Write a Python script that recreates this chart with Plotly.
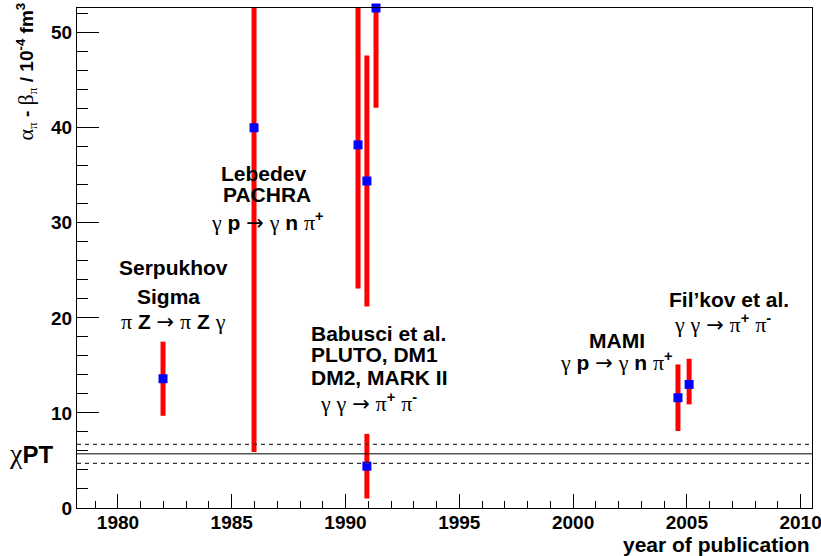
import plotly.graph_objects as go

# ---- data ----
experiments = ["Serpukhov", "Lebedev", "PLUTO", "DM1", "DM2", "MARK II", "MAMI", "Fil'kov"]
years = [1981.98, 1985.98, 1990.55, 1990.94, 1991.34, 1990.94, 2004.61, 2005.10]
values = [13.6, 40.0, 38.2, 34.4, 52.6, 4.4, 11.6, 13.0]
err_plus = [3.9, 34.1, 15.1, 13.2, 10.5, 3.4, 3.5, 2.7]
err_minus = [3.9, 34.1, 15.1, 13.2, 10.5, 3.4, 3.5, 2.1]

chpt_value = 5.7
chpt_error = 1.0

x_range = [1978.2, 2010.5]
y_range = [0, 52.6]

FONT = "Liberation Sans, Arial, Helvetica, sans-serif"
SYM = "Liberation Serif, Times New Roman, serif"


def g(s, size=None):
    sz = f";font-size:{size}px" if size else ""
    return f'<span style="font-family:{SYM};font-weight:normal{sz}">{s}</span>'


ARROW = '<span style="font-family:DejaVu Sans;font-weight:normal">&#8594;</span>'

fig = go.Figure()

# error bars (clipped to the frame)
fig.add_trace(go.Scatter(
    x=years, y=values, mode="markers",
    marker=dict(size=1, color="rgba(0,0,0,0)"),
    error_y=dict(type="data", symmetric=False, array=err_plus, arrayminus=err_minus,
                 color="#ff0000", thickness=5, width=0),
    cliponaxis=True, hoverinfo="skip", showlegend=False,
))
# markers (not clipped)
fig.add_trace(go.Scatter(
    x=years, y=values, mode="markers", text=experiments,
    marker=dict(symbol="square", size=9, color="#0000ff"),
    cliponaxis=False, showlegend=False,
))

# chiPT band
fig.add_shape(type="line", xref="paper", x0=0, x1=1, y0=chpt_value, y1=chpt_value,
              line=dict(color="black", width=1))
for s in (-1, 1):
    fig.add_shape(type="line", xref="paper", x0=0, x1=1,
                  y0=chpt_value + s * chpt_error, y1=chpt_value + s * chpt_error,
                  line=dict(color="#333333", width=1.2, dash="4px,4px"))

ann_font = dict(family=FONT, size=21, color="black", weight="bold")


def txt(x, y, text, xanchor="center", size=21):
    fig.add_annotation(x=x, y=y, xref="x", yref="y", text=text, showarrow=False,
                       xanchor=xanchor, yanchor="middle",
                       font=dict(family=FONT, size=size, color="black", weight="bold"))


gam, pi = g("&#947;", 22), g("&#960;", 22)
txt(1982.42, 25.25, "Serpukhov")
txt(1982.20, 22.30, "Sigma")
txt(1982.46, 19.57, f"{pi} Z {ARROW} {pi} Z {gam}")

txt(1986.42, 35.24, "Lebedev")
txt(1986.55, 32.93, "PACHRA")
txt(1986.55, 30.19, f"{gam} p {ARROW} {gam} n {pi}<sup>+</sup>")

txt(1988.40, 18.41, "Babusci et al.", xanchor="left")
txt(1988.40, 16.10, "PLUTO, DM1", xanchor="left")
txt(1988.40, 13.68, "DM2, MARK II", xanchor="left")
txt(1991.03, 11.15, f"{gam} {gam} {ARROW} {pi}<sup>+</sup> {pi}<sup>-</sup>")

txt(2006.85, 21.90, "Fil&#8217;kov et al.")
txt(2006.55, 19.40, f"{gam} {gam} {ARROW} {pi}<sup>+</sup> {pi}<sup>-</sup>")

txt(2001.93, 17.67, "MAMI")
txt(2001.93, 15.36, f"{gam} p {ARROW} {gam} n {pi}<sup>+</sup>")

# chiPT label left of the axis
fig.add_annotation(x=-0.062, y=chpt_value, xref="paper", yref="y",
                   text=f"{g('&#967;', 28)}PT", showarrow=False, xanchor="center", yanchor="middle",
                   font=dict(family=FONT, size=24, color="black", weight="bold"))

# axis titles
fig.add_annotation(x=1, y=-0.073, xref="paper", yref="paper", text="year of publication",
                   showarrow=False, xanchor="right", yanchor="middle", font=ann_font)
fig.add_annotation(x=-0.07, y=1.014, xref="paper", yref="paper", textangle=-90,
                   text=(f"{g('&#945;', 22)}<sub>{g('&#960;')}</sub> - {g('&#946;', 22)}<sub>{g('&#960;')}</sub>"
                         " / 10<sup>-4</sup> fm<sup>3</sup>"),
                   showarrow=False, xanchor="center", yanchor="top",
                   font=dict(family=FONT, size=19, color="black", weight="bold"))

tickfont = dict(family=FONT, size=19, color="black", weight="bold")
fig.update_xaxes(range=x_range, showgrid=False, zeroline=False, automargin=False,
                 showline=True, linecolor="black", linewidth=1, mirror=True,
                 ticks="inside", ticklen=14, tickwidth=1, tickcolor="black",
                 tick0=1980, dtick=5, tickfont=tickfont, ticklabeloverflow="allow",
                 ticklabelstandoff=-3,
                 minor=dict(ticks="inside", ticklen=7, dtick=1, tickcolor="black", showgrid=False))
fig.update_yaxes(range=y_range, showgrid=False, zeroline=False, automargin=False,
                 showline=True, linecolor="black", linewidth=1, mirror=True,
                 ticks="inside", ticklen=22, tickwidth=1, tickcolor="black",
                 tick0=0, dtick=10, tickfont=tickfont, ticklabeloverflow="allow",
                 minor=dict(ticks="inside", ticklen=11, dtick=2, tickcolor="black", showgrid=False))

fig.update_layout(width=821, height=556, margin=dict(l=77, r=9, t=8, b=48, autoexpand=False),
                  plot_bgcolor="white", paper_bgcolor="white", showlegend=False,
                  font=dict(family=FONT))

fig.write_html("out.html", config={"displayModeBar": False},
               post_script="document.body.style.margin='0px';")
